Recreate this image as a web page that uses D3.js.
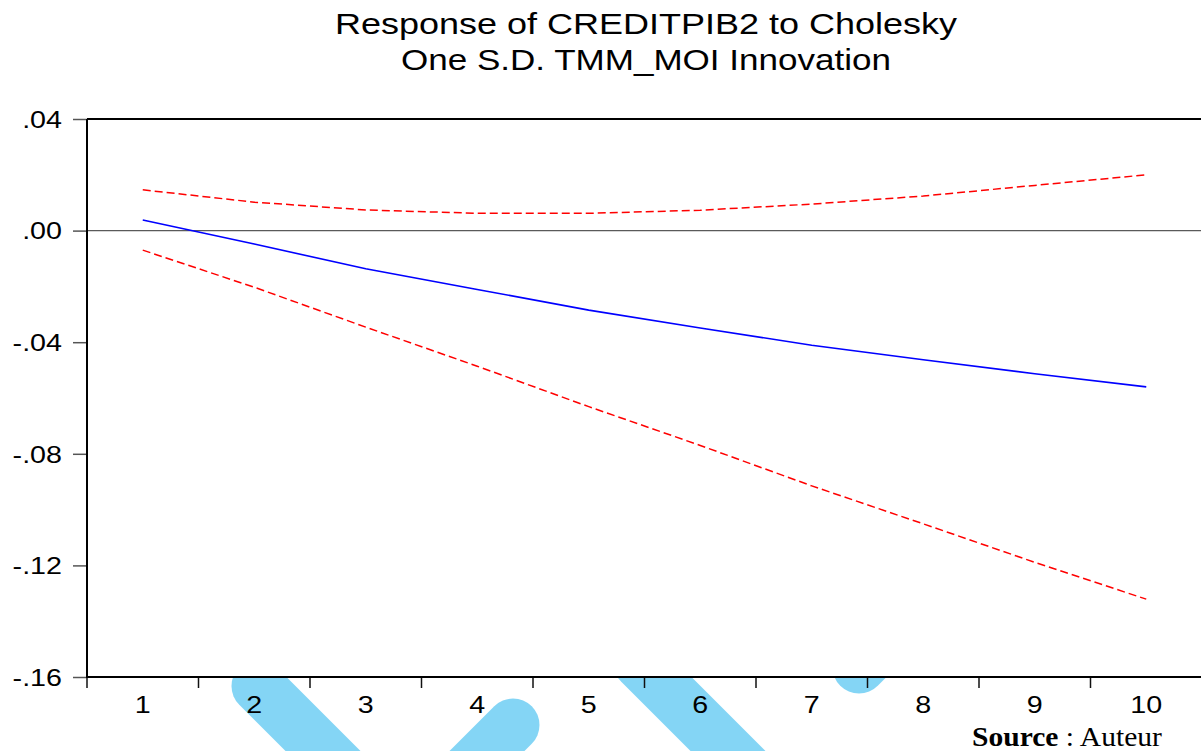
<!DOCTYPE html>
<html>
<head>
<meta charset="utf-8">
<script src="https://cdn.jsdelivr.net/npm/d3@7"></script>
<style>
  html, body { margin: 0; padding: 0; background: #fff; }
  svg { display: block; }
</style>
</head>
<body>
<svg id="chart" width="1201" height="751"></svg>
<script>
// Impulse response of CREDITPIB2 to a one S.D. TMM_MOI shock, with ±2 S.E. bands
const periods    = [1, 2, 3, 4, 5, 6, 7, 8, 9, 10];
const response   = [0.0038, -0.0048, -0.0137, -0.0211, -0.0285, -0.0349, -0.0411, -0.0463, -0.0513, -0.0560];
const upperBand  = [0.0146, 0.0102, 0.0074, 0.0062, 0.0062, 0.0073, 0.0095, 0.0124, 0.0162, 0.0200];
const lowerBand  = [-0.0070, -0.0203, -0.0346, -0.0486, -0.0631, -0.0770, -0.0915, -0.1051, -0.1189, -0.1321];
const yTickValues = [0.04, 0.00, -0.04, -0.08, -0.12, -0.16];
const titleLines  = ["Response of CREDITPIB2 to Cholesky", "One S.D. TMM_MOI Innovation"];

const svg = d3.select("#chart");
const plot = { left: 87, top: 119, right: 1202, bottom: 677 };
const sansFont = "'Liberation Sans', Arial, sans-serif";
const serifFont = "'Liberation Serif', 'Times New Roman', serif";

const x = d3.scaleBand().domain(periods).range([plot.left, plot.right]).padding(0);
const y = d3.scaleLinear().domain([-0.16, 0.04]).range([plot.bottom, plot.top]);
const xc = p => x(p) + x.bandwidth() / 2;

// widen glyphs horizontally (the lettering in this graph is drawn wide)
function widen(sel, k) {
  sel.each(function () {
    const w = this.getComputedTextLength();
    d3.select(this).attr("textLength", w * k).attr("lengthAdjust", "spacingAndGlyphs");
  });
}

// light-blue background strokes
const wm = svg.append("g").attr("stroke", "#84d5f5").attr("stroke-width", 53)
  .attr("stroke-linecap", "round").attr("fill", "none");
[[258, 686, 440, 868], [513, 725, 380, 858], [640, 663, 840, 863], [859, 667, 959, 567]]
  .forEach(([x1, y1, x2, y2]) => wm.append("line").attr("x1", x1).attr("y1", y1).attr("x2", x2).attr("y2", y2));

// plot background
svg.append("rect")
  .attr("x", plot.left).attr("y", plot.top)
  .attr("width", plot.right - plot.left).attr("height", plot.bottom - plot.top)
  .attr("fill", "#fff");

// zero reference line
svg.append("line")
  .attr("x1", plot.left).attr("x2", 1201)
  .attr("y1", y(0)).attr("y2", y(0))
  .attr("stroke", "#5a5a5a").attr("stroke-width", 1.3);

// series
const rows = periods.map((p, i) => ({ p, r: response[i], u: upperBand[i], l: lowerBand[i] }));
const lineOf = key => d3.line().x(d => xc(d.p)).y(d => y(d[key]))(rows);

svg.append("path").attr("d", lineOf("u")).attr("fill", "none")
  .attr("stroke", "#ff0000").attr("stroke-width", 1.5).attr("stroke-dasharray", "8,4");
svg.append("path").attr("d", lineOf("l")).attr("fill", "none")
  .attr("stroke", "#ff0000").attr("stroke-width", 1.5).attr("stroke-dasharray", "8,4");
svg.append("path").attr("d", lineOf("r")).attr("fill", "none")
  .attr("stroke", "#0000ff").attr("stroke-width", 1.6);

// y axis
const fmt = v => {
  const s = d3.format(".2f")(Math.abs(v)).replace(/^0/, "");
  return (v < 0 ? "-" : "") + s;
};
const yAxis = svg.append("g")
  .attr("transform", `translate(${plot.left},0)`)
  .call(d3.axisLeft(y).tickValues(yTickValues).tickSize(14).tickPadding(11).tickFormat(fmt));
yAxis.select(".domain").remove();
yAxis.selectAll(".tick line").attr("stroke", "#555").attr("stroke-width", 1.5);
yAxis.selectAll(".tick text")
  .attr("font-family", sansFont).attr("font-size", 23.5).attr("fill", "#000").attr("dy", "0.35em")
  .call(widen, 1.22);

// x axis: labels centred in each period, ticks at period boundaries
const xAxis = svg.append("g")
  .attr("transform", `translate(0,${plot.bottom})`)
  .call(d3.axisBottom(x).tickSize(0).tickPadding(19));
xAxis.select(".domain").remove();
xAxis.selectAll(".tick text")
  .attr("font-family", sansFont).attr("font-size", 23.5).attr("fill", "#000").attr("dy", "0.71em")
  .call(widen, 1.22);
svg.append("g").selectAll("line").data(periods).join("line")
  .attr("x1", d => x(d)).attr("x2", d => x(d))
  .attr("y1", plot.bottom).attr("y2", plot.bottom + 11)
  .attr("stroke", "#111").attr("stroke-width", 1.5);

// frame
const frame = svg.append("g").attr("stroke", "#000").attr("stroke-width", 2);
frame.append("line").attr("x1", plot.left).attr("x2", 1201).attr("y1", plot.top).attr("y2", plot.top);
frame.append("line").attr("x1", plot.left).attr("x2", plot.left).attr("y1", plot.top).attr("y2", plot.bottom);
frame.append("line").attr("x1", plot.left - 1).attr("x2", 1201).attr("y1", plot.bottom).attr("y2", plot.bottom);

// title
const titleWidths = [622, 490];
svg.append("g").selectAll("text").data(titleLines).join("text")
  .attr("x", 646).attr("y", (d, i) => 34 + i * 36)
  .attr("text-anchor", "middle")
  .attr("font-family", sansFont).attr("font-size", 29).attr("fill", "#000")
  .attr("textLength", (d, i) => titleWidths[i]).attr("lengthAdjust", "spacingAndGlyphs")
  .text(d => d);

// source note
const src = svg.append("text")
  .attr("font-family", serifFont).attr("font-size", 27).attr("fill", "#000");
src.append("tspan").attr("font-weight", "bold").text("Source");
src.append("tspan").text(" : Auteur");
const srcW = src.node().getComputedTextLength();
src.attr("transform", `translate(972,746) scale(${190 / srcW},1)`);
</script>
</body>
</html>
